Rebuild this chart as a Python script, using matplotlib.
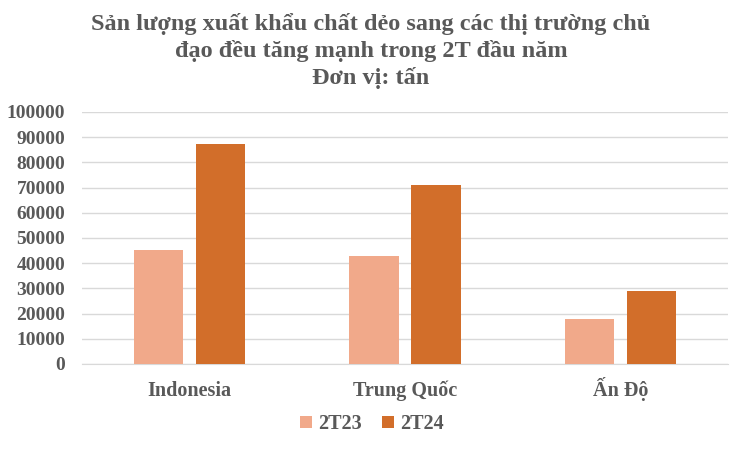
import matplotlib
matplotlib.use("Agg")
import matplotlib.pyplot as plt
import numpy as np

categories = ["Indonesia", "Trung Quốc", "Ấn Độ"]
series_names = ["2T23", "2T24"]
values_2t23 = [45200, 42900, 17900]
values_2t24 = [87300, 71000, 29000]
yticks = [0, 10000, 20000, 30000, 40000, 50000, 60000, 70000, 80000, 90000, 100000]
title = "Sản lượng xuất khẩu chất dẻo sang các thị trường chủ\nđạo đều tăng mạnh trong 2T đầu năm\nĐơn vị: tấn"

c1 = "#F1A98A"
c2 = "#D26E2A"
txt = "#595959"

plt.rcParams['font.family'] = ['Liberation Serif', 'DejaVu Serif']
plt.rcParams['font.weight'] = 'bold'

fig = plt.figure(figsize=(7.42, 4.49), dpi=100)
ax = fig.add_axes([82/742, 1-364/449, (728-82)/742, (364-112)/449])

x = np.arange(len(categories))
w = 0.228
off = 0.144
ax.bar(x - off, values_2t23, w, color=c1, label=series_names[0], zorder=3)
ax.bar(x + off, values_2t24, w, color=c2, label=series_names[1], zorder=3)

ax.set_xlim(-0.5, 2.5)
ax.set_ylim(0, 100000)
ax.set_yticks(yticks)
ax.set_yticklabels([str(v) for v in yticks], fontsize=14, color=txt, fontweight='bold')
ax.set_xticks(x)
ax.set_xticklabels(categories, fontsize=14.5, color=txt, fontweight='bold', va='baseline')
ax.tick_params(axis='both', length=0)
ax.tick_params(axis='y', pad=12)
ax.tick_params(axis='x', pad=23)
ax.grid(axis='y', color='#D9D9D9', linewidth=1, zorder=0)
for s in ['top', 'right', 'left']:
    ax.spines[s].set_visible(False)
ax.spines['bottom'].set_color('#D9D9D9')

fig.text(0.5, 1-51/449, title, ha='center', va='center', fontsize=17.5, color=txt,
         fontweight='bold', linespacing=1.3)

leg = fig.legend(loc='center', bbox_to_anchor=(372/742, 1-424/449), ncol=2, frameon=False,
                 prop={'size': 14.5, 'weight': 'bold'}, handlelength=0.6, handleheight=0.6,
                 handletextpad=0.3, columnspacing=1.0)
for t in leg.get_texts():
    t.set_color(txt)

fig.savefig("out.png", dpi=100)
